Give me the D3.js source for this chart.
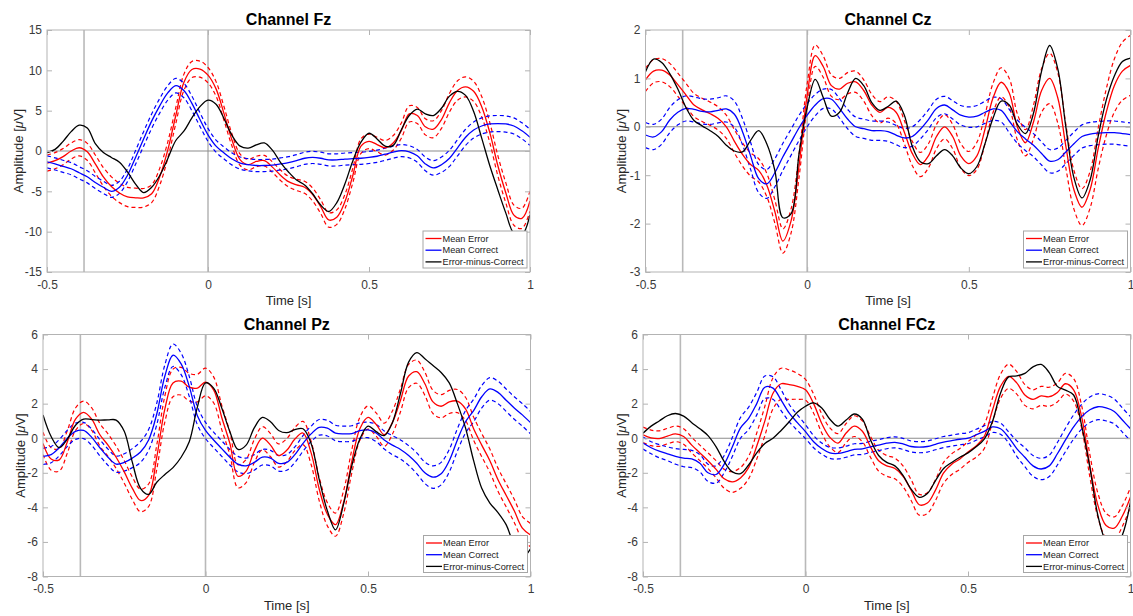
<!DOCTYPE html>
<html>
<head>
<meta charset="utf-8">
<script src="https://cdn.jsdelivr.net/npm/d3@7"></script>
<style>
  body { margin: 0; background: #ffffff; }
  svg { display: block; }
  text { font-family: "Liberation Sans", Arial, Helvetica, sans-serif; }
</style>
</head>
<body>
<svg id="chart" width="1133" height="616"></svg>
<script>
// Sample times (s), relative to the response at 0
const times = [
  -0.5, -0.475, -0.45, -0.425, -0.4, -0.375, -0.35, -0.325, -0.3, -0.275,
  -0.25, -0.225, -0.2, -0.175, -0.15, -0.125, -0.1, -0.075, -0.05, -0.025,
  0, 0.025, 0.05, 0.075, 0.1, 0.125, 0.15, 0.175, 0.2, 0.225,
  0.25, 0.275, 0.3, 0.325, 0.35, 0.375, 0.4, 0.425, 0.45, 0.475,
  0.5, 0.525, 0.55, 0.575, 0.6, 0.625, 0.65, 0.675, 0.7, 0.725,
  0.75, 0.775, 0.8, 0.825, 0.85, 0.875, 0.9, 0.925, 0.95, 0.975,
  1.0
];

// ---- Channel Fz (µV) ----
const fzError = [
  -1.5, -1.2, -0.7, 0.0, 0.4, -0.1, -1.6, -3.2, -4.4, -5.2,
  -5.7, -5.8, -5.8, -5.3, -3.2, 0.1, 4.4, 8.5, 10.1, 10.15,
  9.4, 7.7, 4.6, 1.3, -1.1, -1.7, -1.3, -1.2, -2.0, -3.0,
  -3.8, -4.2, -4.5, -5.4, -6.9, -8.55, -8.2, -6.3, -3.0, 0.6,
  1.2, 0.8, 0.4, 1.0, 2.5, 4.6, 4.4, 3.0, 2.7, 3.9,
  6.0, 7.5, 7.95, 7.4, 5.5, 2.3, -1.8, -5.2, -7.95, -8.35,
  -6.2
];
const fzErrorCI = [
  1.0, 1.0, 1.0, 1.0, 1.0, 1.05, 1.1, 1.15, 1.2, 1.2,
  1.2, 1.2, 1.15, 1.1, 1.05, 1.0, 1.0, 1.0, 1.0, 1.0,
  0.95, 0.9, 0.85, 0.75, 0.7, 0.65, 0.65, 0.65, 0.65, 0.65,
  0.65, 0.7, 0.75, 0.8, 0.85, 0.9, 0.9, 0.9, 0.9, 0.9,
  0.9, 0.9, 0.9, 0.9, 0.95, 1.0, 1.0, 1.0, 1.05, 1.1,
  1.15, 1.2, 1.25, 1.25, 1.25, 1.25, 1.25, 1.25, 1.25, 1.25,
  1.25
];
const fzCorrect = [
  -1.35, -1.6, -1.9, -2.2, -2.7, -3.2, -3.9, -4.5, -5.0, -4.5,
  -3.0, -0.8, 1.5, 3.7, 5.6, 7.2, 8.1, 7.5, 5.9, 3.9,
  2.0, 0.6, -0.25, -1.0, -1.5, -1.7, -1.8, -1.8, -1.75, -1.6,
  -1.45, -1.2, -0.9, -0.8, -0.9, -1.1, -1.1, -1.0, -0.95, -0.9,
  -0.8, -0.65, -0.4, -0.15, 0.05, -0.1, -0.6, -1.6, -2.1, -1.7,
  -0.9, 0.4, 1.7, 2.6, 3.1, 3.35, 3.4, 3.35, 3.1, 2.5,
  1.7
];
const fzCorrectCI = [
  0.75, 0.75, 0.75, 0.75, 0.75, 0.75, 0.75, 0.75, 0.75, 0.75,
  0.8, 0.85, 0.9, 0.9, 0.9, 0.9, 0.9, 0.9, 0.9, 0.85,
  0.8, 0.75, 0.75, 0.75, 0.75, 0.75, 0.75, 0.75, 0.75, 0.75,
  0.75, 0.75, 0.75, 0.75, 0.75, 0.75, 0.75, 0.75, 0.75, 0.75,
  0.75, 0.75, 0.75, 0.75, 0.75, 0.75, 0.8, 0.85, 0.9, 0.95,
  1.0, 1.0, 1.0, 1.0, 1.0, 1.0, 1.0, 1.0, 1.0, 1.0,
  1.0
];
const fzDiff = [
  -0.2, 0.2, 1.2, 2.4, 3.2, 2.85, 0.9, -0.2, -0.8, -1.4,
  -2.6, -4.1, -5.15, -4.5, -3.05, -0.95, 1.3, 2.45, 4.1, 5.5,
  6.3, 5.8, 4.0, 1.9, 0.6, 0.35, 0.75, 1.0, 0.1, -1.4,
  -2.6, -3.6, -4.2, -5.3, -6.7, -7.5, -6.4, -4.1, -1.2, 1.1,
  2.2, 1.5, 0.6, 0.7, 2.6, 4.4, 5.2, 4.6, 4.4, 5.3,
  6.8, 7.4, 6.9, 4.9, 1.6, -1.8, -4.8, -7.7, -10.2, -10.4,
  -7.9
];

// ---- Channel Cz (µV) ----
const czError = [
  0.97, 1.15, 1.17, 1.07, 0.87, 0.66, 0.45, 0.35, 0.27, 0.17,
  0.0, -0.3, -0.57, -0.78, -0.9, -1.2, -1.75, -2.36, -1.95, -0.8,
  0.65, 1.47, 1.24, 0.85, 0.78, 0.9, 0.93, 0.75, 0.45, 0.3,
  0.4, 0.3, -0.1, -0.55, -0.78, -0.6, -0.2, 0.0, -0.2, -0.6,
  -0.76, -0.6, -0.05, 0.6, 0.92, 0.7, 0.0, -0.33, 0.1, 0.75,
  1.0, 0.6, -0.4, -1.3, -1.66, -1.3, -0.45, 0.3, 0.85, 1.15,
  1.27
];
const czErrorCI = [
  0.24, 0.24, 0.24, 0.24, 0.24, 0.24, 0.24, 0.24, 0.24, 0.24,
  0.24, 0.24, 0.24, 0.24, 0.24, 0.24, 0.24, 0.25, 0.25, 0.24,
  0.24, 0.22, 0.22, 0.22, 0.22, 0.22, 0.22, 0.22, 0.22, 0.22,
  0.22, 0.23, 0.24, 0.25, 0.25, 0.25, 0.25, 0.25, 0.25, 0.25,
  0.25, 0.28, 0.3, 0.3, 0.3, 0.3, 0.27, 0.27, 0.35, 0.45,
  0.52, 0.52, 0.45, 0.4, 0.38, 0.38, 0.42, 0.48, 0.55, 0.6,
  0.62
];
const czCorrect = [
  -0.17, -0.21, -0.1, 0.14, 0.3, 0.38, 0.36, 0.32, 0.31, 0.34,
  0.37, 0.26, -0.1, -0.6, -1.07, -1.18, -0.95, -0.62, -0.32, -0.02,
  0.24, 0.45, 0.58, 0.57, 0.38, 0.16, 0.0, -0.04, -0.08, -0.08,
  -0.1, -0.17, -0.23, -0.2, -0.05, 0.15, 0.38, 0.45, 0.35, 0.24,
  0.2, 0.22, 0.3, 0.37, 0.34, 0.12, -0.1, -0.25, -0.38, -0.55,
  -0.71, -0.68, -0.52, -0.35, -0.2, -0.15, -0.13, -0.12, -0.12, -0.14,
  -0.16
];
const czCorrectCI = [
  0.26, 0.26, 0.26, 0.26, 0.26, 0.26, 0.26, 0.26, 0.26, 0.26,
  0.27, 0.27, 0.27, 0.28, 0.29, 0.3, 0.29, 0.28, 0.27, 0.26,
  0.24, 0.22, 0.2, 0.2, 0.2, 0.2, 0.2, 0.2, 0.2, 0.2,
  0.2, 0.2, 0.2, 0.2, 0.2, 0.2, 0.19, 0.18, 0.19, 0.2,
  0.21, 0.22, 0.23, 0.24, 0.24, 0.24, 0.24, 0.24, 0.24, 0.24,
  0.24, 0.24, 0.24, 0.24, 0.24, 0.24, 0.24, 0.24, 0.24, 0.24,
  0.24
];
const czDiff = [
  1.14, 1.4, 1.33, 1.1, 0.78, 0.4, 0.13, 0.02, -0.08, -0.2,
  -0.38, -0.5, -0.52, -0.28, -0.08, -0.35, -0.9, -1.88, -1.8, -0.55,
  0.4, 0.98, 0.6, 0.22, 0.3, 0.7, 1.0, 0.85, 0.5, 0.34,
  0.42, 0.53, 0.25, -0.4, -0.72, -0.76, -0.6, -0.47, -0.6, -0.85,
  -0.97, -0.82, -0.35, 0.18, 0.53, 0.45, 0.05, -0.14, 0.28, 1.15,
  1.68, 1.2, 0.0, -1.05, -1.47, -1.1, -0.2, 0.55, 1.05, 1.35,
  1.42
];

// ---- Channel Pz (µV) ----
const pzError = [
  -0.3, -1.2, -1.25, -0.2, 1.1, 1.5, 1.1, 0.2, -0.4, -1.1,
  -1.95, -2.9, -3.6, -3.3, -1.1, 1.7, 3.2, 3.3, 2.95, 2.9,
  3.25, 2.8, 1.2, -0.3, -2.2, -1.9, -0.75, 0.0, -0.4, -1.0,
  -0.7, -0.05, 0.3, -0.85, -2.95, -4.4, -5.0, -3.7, -1.35, 0.55,
  1.2, 0.8, 0.2, 0.9, 2.2, 3.6, 3.85, 3.15, 2.1, 1.85,
  2.1, 2.15, 1.7, 0.55, -0.4, -1.3, -2.4, -3.3, -4.2, -5.2,
  -5.6
];
const pzErrorCI = [
  0.65, 0.65, 0.65, 0.65, 0.65, 0.65, 0.65, 0.65, 0.65, 0.65,
  0.65, 0.65, 0.65, 0.65, 0.7, 0.75, 0.8, 0.8, 0.8, 0.8,
  0.8, 0.75, 0.7, 0.67, 0.67, 0.67, 0.67, 0.67, 0.67, 0.67,
  0.67, 0.67, 0.67, 0.67, 0.67, 0.67, 0.67, 0.67, 0.67, 0.67,
  0.67, 0.67, 0.67, 0.67, 0.67, 0.67, 0.67, 0.67, 0.67, 0.67,
  0.67, 0.67, 0.67, 0.67, 0.67, 0.67, 0.67, 0.67, 0.67, 0.67,
  0.67
];
const pzCorrect = [
  -1.05, -0.95, -0.55, 0.0, 0.4, 0.45, 0.05, -0.55, -1.1, -1.5,
  -1.4, -1.15, -0.8, -0.1, 1.4, 3.6, 4.8, 4.3, 3.0, 1.3,
  0.45, -0.1, -0.6, -1.1, -1.5, -1.6, -1.4, -1.1, -1.15, -1.45,
  -1.4, -0.95, -0.3, 0.25, 0.63, 0.58, 0.3, 0.25, 0.27, 0.44,
  0.48, 0.3, -0.1, -0.4, -0.65, -1.0, -1.45, -2.0, -2.25, -2.05,
  -1.3, -0.1, 0.95, 1.6, 2.4, 2.85, 2.65, 2.2, 1.75, 1.35,
  0.9
];
const pzCorrectCI = [
  0.47, 0.47, 0.47, 0.47, 0.47, 0.47, 0.47, 0.47, 0.47, 0.47,
  0.5, 0.55, 0.6, 0.6, 0.62, 0.65, 0.65, 0.62, 0.58, 0.52,
  0.47, 0.45, 0.45, 0.45, 0.45, 0.45, 0.45, 0.45, 0.45, 0.45,
  0.45, 0.45, 0.45, 0.45, 0.45, 0.45, 0.45, 0.45, 0.45, 0.45,
  0.45, 0.5, 0.52, 0.55, 0.55, 0.57, 0.6, 0.62, 0.65, 0.65,
  0.65, 0.65, 0.65, 0.65, 0.65, 0.65, 0.65, 0.65, 0.65, 0.65,
  0.65
];
const pzDiff = [
  1.35, 0.1, -0.55, -0.05, 0.75, 1.1, 1.08, 1.05, 1.06, 1.05,
  0.4, -1.4, -2.9, -3.25, -2.55, -2.1, -1.7, -1.1, -0.2, 1.8,
  3.2, 2.9, 1.75, 0.38, -0.65, -0.4, 0.6, 1.2, 0.95, 0.45,
  0.32, 0.5, 0.55, -0.3, -2.4, -4.2, -5.3, -3.8, -1.6, -0.05,
  0.7, 0.38, 0.15, 0.9, 2.6, 4.4, 4.95, 4.6, 4.2, 3.8,
  3.2, 2.0, 0.6, -1.3, -2.9, -3.75, -4.3, -5.0, -6.2, -6.9,
  -6.4
];

// ---- Channel FCz (µV) ----
const fczError = [
  0.2, 0.02, -0.02, 0.12, 0.25, 0.1, -0.4, -0.85, -1.3, -1.8,
  -2.35, -2.53, -2.3, -1.7, -0.45, 1.0, 2.6, 3.15, 3.1, 3.0,
  2.8, 2.0, 0.85, 0.05, -0.28, 0.3, 0.7, 0.4, -0.5, -1.3,
  -1.6, -1.75, -2.2, -3.0, -3.85, -3.75, -3.0, -2.0, -1.5, -1.2,
  -0.8, -0.45, 0.1, 1.6, 3.0, 3.58, 3.2, 2.5, 2.25, 2.45,
  2.4, 2.65, 3.15, 2.8, 1.2, -1.6, -3.9, -5.05, -5.2, -4.5,
  -3.4
];
const fczErrorCI = [
  0.45, 0.45, 0.45, 0.45, 0.45, 0.45, 0.45, 0.45, 0.45, 0.5,
  0.55, 0.6, 0.6, 0.65, 0.75, 0.85, 0.9, 0.9, 0.85, 0.75,
  0.6, 0.55, 0.55, 0.55, 0.55, 0.55, 0.6, 0.6, 0.6, 0.6,
  0.6, 0.6, 0.6, 0.6, 0.6, 0.6, 0.6, 0.6, 0.6, 0.6,
  0.6, 0.65, 0.7, 0.7, 0.7, 0.7, 0.65, 0.6, 0.55, 0.55,
  0.55, 0.55, 0.6, 0.65, 0.65, 0.65, 0.7, 0.7, 0.65, 0.6,
  0.55
];
const fczCorrect = [
  -0.28, -0.55, -0.75, -0.9, -1.05, -1.15, -1.2, -1.45, -2.0, -2.1,
  -1.5, -0.5, 0.6, 1.15, 2.0, 2.95, 2.9, 2.2, 1.45, 0.9,
  0.38, -0.2, -0.6, -0.85, -0.88, -0.78, -0.64, -0.62, -0.5, -0.4,
  -0.29, -0.24, -0.33, -0.48, -0.52, -0.48, -0.35, -0.22, -0.14, -0.06,
  0.0, 0.2, 0.4, 0.65, 0.55, 0.05, -0.6, -1.1, -1.6, -1.78,
  -1.6, -0.9, -0.1, 0.65, 1.25, 1.65, 1.82, 1.75, 1.55, 1.05,
  0.55
];
const fczCorrectCI = [
  0.35, 0.35, 0.38, 0.4, 0.45, 0.5, 0.5, 0.5, 0.5, 0.5,
  0.5, 0.55, 0.6, 0.65, 0.65, 0.65, 0.65, 0.6, 0.5, 0.45,
  0.4, 0.35, 0.32, 0.32, 0.32, 0.32, 0.32, 0.32, 0.32, 0.32,
  0.32, 0.32, 0.32, 0.32, 0.32, 0.32, 0.32, 0.32, 0.32, 0.32,
  0.32, 0.32, 0.32, 0.32, 0.32, 0.32, 0.45, 0.55, 0.6, 0.62,
  0.62, 0.65, 0.68, 0.7, 0.72, 0.74, 0.75, 0.75, 0.72, 0.7,
  0.7
];
const fczDiff = [
  0.29, 0.7, 1.0, 1.3, 1.43, 1.28, 0.9, 0.55, 0.15, -0.5,
  -1.35, -1.95, -2.05, -1.55, -0.85, -0.3, 0.0, 0.45, 0.95, 1.5,
  1.85, 2.05, 1.75, 1.1, 0.7, 1.05, 1.4, 1.1, -0.1, -1.0,
  -1.4, -1.6, -2.15, -2.95, -3.42, -3.2, -2.45, -1.75, -1.4, -1.1,
  -0.85, -0.5, -0.05, 0.95, 2.6, 3.55, 3.6, 3.75, 4.13, 4.27,
  3.8, 3.0, 2.78, 2.5, 0.7, -1.7, -4.5, -6.0, -6.4, -5.6,
  -3.7
];

// Axis ticks and labels
const xTicks = [-0.5, 0, 0.5, 1];
const xTickLabels = ["-0.5", "0", "0.5", "1"];
const fzTicks = [-15, -10, -5, 0, 5, 10, 15];
const czTicks = [-3, -2, -1, 0, 1, 2];
const pzTicks = [-8, -6, -4, -2, 0, 2, 4, 6];
const markerTimes = [-0.385, 0];
const legendLabels = ["Mean Error", "Mean Correct", "Error-minus-Correct"];
const seriesColors = ["#ff0000", "#0000ff", "#000000"];

// Panel layout (pixel boxes of each axes area)
const panels = [
  { title: "Channel Fz", error: fzError, errorCI: fzErrorCI, correct: fzCorrect, correctCI: fzCorrectCI, diff: fzDiff,
    yDomain: [-15, 15], yTicks: fzTicks, x0: 47, x1: 530, y0: 30, y1: 272, ylabelX: 23 },
  { title: "Channel Cz", error: czError, errorCI: czErrorCI, correct: czCorrect, correctCI: czCorrectCI, diff: czDiff,
    yDomain: [-3, 2], yTicks: czTicks, x0: 645.5, x1: 1130.5, y0: 30, y1: 272, ylabelX: 626 },
  { title: "Channel Pz", error: pzError, errorCI: pzErrorCI, correct: pzCorrect, correctCI: pzCorrectCI, diff: pzDiff,
    yDomain: [-8, 6], yTicks: pzTicks, x0: 43, x1: 530.5, y0: 334.5, y1: 576.5, ylabelX: 24.5 },
  { title: "Channel FCz", error: fczError, errorCI: fczErrorCI, correct: fczCorrect, correctCI: fczCorrectCI, diff: fczDiff,
    yDomain: [-8, 6], yTicks: pzTicks, x0: 643, x1: 1130.5, y0: 334.5, y1: 576.5, ylabelX: 625.5 }
];

const svg = d3.select("#chart");
const FONT = '"Liberation Sans", Arial, Helvetica, sans-serif';
const AXIS_GRAY = "#b3b3b3";
const TEXT_GRAY = "#3a3a3a";

panels.forEach((p, k) => {
  const x = d3.scaleLinear().domain([-0.5, 1]).range([p.x0, p.x1]);
  const y = d3.scaleLinear().domain(p.yDomain).range([p.y1, p.y0]);
  const g = svg.append("g").attr("class", "panel");

  const clipId = "plot-clip-" + k;
  svg.append("clipPath").attr("id", clipId)
    .append("rect")
    .attr("x", p.x0).attr("y", p.y0)
    .attr("width", p.x1 - p.x0).attr("height", p.y1 - p.y0);

  const plot = g.append("g").attr("clip-path", `url(#${clipId})`);

  // event markers and zero line
  markerTimes.forEach(t => {
    plot.append("line")
      .attr("x1", x(t)).attr("x2", x(t))
      .attr("y1", p.y0).attr("y2", p.y1)
      .attr("stroke", "#b9b9b9").attr("stroke-width", 1.6);
  });
  plot.append("line")
    .attr("x1", p.x0).attr("x2", p.x1)
    .attr("y1", y(0)).attr("y2", y(0))
    .attr("stroke", "#8c8c8c").attr("stroke-width", 1.1);

  const line = d3.line()
    .defined(d => d[1] != null && !isNaN(d[1]))
    .x(d => x(d[0])).y(d => y(d[1]))
    .curve(d3.curveCatmullRom.alpha(0.5));

  const series = arr => times.map((t, i) => [t, arr[i]]);
  const bound = (mean, ci, s) => times.map((t, i) => [t, mean[i] + s * ci[i]]);

  // confidence bounds (dashed)
  [[p.error, p.errorCI, seriesColors[0]], [p.correct, p.correctCI, seriesColors[1]]].forEach(([m, ci, c]) => {
    [1, -1].forEach(s => {
      plot.append("path")
        .datum(bound(m, ci, s))
        .attr("d", line)
        .attr("fill", "none")
        .attr("stroke", c)
        .attr("stroke-width", 1.2)
        .attr("stroke-dasharray", "4,3");
    });
  });

  // means and difference wave
  [p.error, p.correct, p.diff].forEach((arr, j) => {
    plot.append("path")
      .datum(series(arr))
      .attr("d", line)
      .attr("fill", "none")
      .attr("stroke", seriesColors[j])
      .attr("stroke-width", 1.3);
  });

  // axes with inward ticks on all four sides
  const styleAxis = sel => {
    sel.select(".domain").remove();
    sel.attr("color", AXIS_GRAY).attr("font-family", FONT).attr("font-size", 12);
    sel.selectAll("text").attr("fill", TEXT_GRAY);
  };
  g.append("g").attr("transform", `translate(0,${p.y1})`)
    .call(d3.axisBottom(x).tickValues(xTicks).tickFormat((d, i) => xTickLabels[i])
      .tickSizeInner(-5).tickSizeOuter(0).tickPadding(8))
    .call(styleAxis);
  g.append("g").attr("transform", `translate(0,${p.y0})`)
    .call(d3.axisTop(x).tickValues(xTicks).tickFormat("").tickSizeInner(-5).tickSizeOuter(0))
    .call(styleAxis);
  g.append("g").attr("transform", `translate(${p.x0},0)`)
    .call(d3.axisLeft(y).tickValues(p.yTicks).tickFormat(d => String(d))
      .tickSizeInner(-5).tickSizeOuter(0).tickPadding(5))
    .call(styleAxis);
  g.append("g").attr("transform", `translate(${p.x1},0)`)
    .call(d3.axisRight(y).tickValues(p.yTicks).tickFormat("").tickSizeInner(-5).tickSizeOuter(0))
    .call(styleAxis);

  g.append("rect")
    .attr("x", p.x0).attr("y", p.y0)
    .attr("width", p.x1 - p.x0).attr("height", p.y1 - p.y0)
    .attr("fill", "none").attr("stroke", AXIS_GRAY).attr("stroke-width", 1);

  // title and axis labels
  g.append("text")
    .attr("x", (p.x0 + p.x1) / 2).attr("y", p.y0 - 5)
    .attr("text-anchor", "middle")
    .attr("font-size", 16).attr("font-weight", "bold").attr("fill", "#000")
    .text(p.title);

  g.append("text")
    .attr("x", (p.x0 + p.x1) / 2).attr("y", p.y1 + 33)
    .attr("text-anchor", "middle")
    .attr("font-size", 13).attr("fill", "#262626")
    .text("Time [s]");

  const yl = g.append("text")
    .attr("transform", `translate(${p.ylabelX},${(p.y0 + p.y1) / 2}) rotate(-90)`)
    .attr("text-anchor", "middle")
    .attr("font-size", 13).attr("fill", "#262626");
  yl.append("tspan").text("Amplitude [");
  yl.append("tspan").attr("font-style", "italic").text("\u03bc");
  yl.append("tspan").text("V]");

  // legend, lower right
  const lw = 104, lh = 37;
  const lx = p.x1 - 3 - lw, ly = p.y1 - 4 - lh;
  const lg = g.append("g");
  lg.append("rect")
    .attr("x", lx).attr("y", ly).attr("width", lw).attr("height", lh)
    .attr("fill", "#ffffff").attr("stroke", "#a6a6a6").attr("stroke-width", 1);
  legendLabels.forEach((lab, j) => {
    const ry = ly + 7.5 + j * 11.7;
    lg.append("line")
      .attr("x1", lx + 2.5).attr("x2", lx + 18.5)
      .attr("y1", ry).attr("y2", ry)
      .attr("stroke", seriesColors[j]).attr("stroke-width", 1.3);
    lg.append("text")
      .attr("x", lx + 19.5).attr("y", ry).attr("dy", "0.35em")
      .attr("font-size", 9.2).attr("fill", "#1a1a1a")
      .text(lab);
  });
});
</script>
</body>
</html>
